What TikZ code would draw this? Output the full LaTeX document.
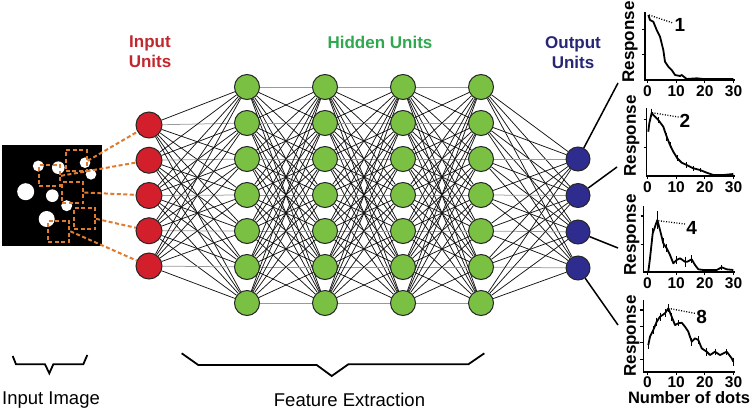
\documentclass[tikz,border=0pt]{standalone}
\usepackage{fontspec}
\setmainfont{Liberation Sans}
\definecolor{inred}{HTML}{D21F2B}
\definecolor{inredtxt}{HTML}{C1272D}
\definecolor{hidgreen}{HTML}{7AC143}
\definecolor{hidgreentxt}{HTML}{2FA84F}
\definecolor{outblue}{HTML}{2E2D8F}
\definecolor{outbluetxt}{HTML}{262673}
\definecolor{dashorange}{HTML}{DE7B2E}
\pgfdeclarelayer{bg}
\pgfsetlayers{bg,main}
\begin{document}
\begin{tikzpicture}[x=1pt,y=-1pt,
  inunit/.style={circle,draw=black!85,line width=1pt,fill=inred,inner sep=0pt,minimum size=26pt},
  hidunit/.style={circle,draw=black!85,line width=1pt,fill=hidgreen,inner sep=0pt,minimum size=25pt},
  outunit/.style={circle,draw=black!85,line width=1pt,fill=outblue,inner sep=0pt,minimum size=24pt},
  edge/.style={line width=0.75pt},
  sqbox/.style={draw=dashorange,line width=2pt,dash pattern=on 4pt off 2.5pt,minimum size=21pt,inner sep=0pt},
  orangelink/.style={draw=dashorange,line width=2pt,dash pattern=on 4pt off 2.5pt},
  bigbold/.style={font=\fontsize{17}{20}\selectfont\bfseries,align=center},
  plainlab/.style={font=\fontsize{18.5}{22}\selectfont},
  ticklab/.style={font=\fontsize{15.5}{17}\selectfont\bfseries,inner sep=0pt},
  numlab/.style={font=\fontsize{19}{21}\selectfont\bfseries,inner sep=0pt},
  resplab/.style={font=\fontsize{17}{20}\selectfont\bfseries,rotate=90,inner sep=0pt},
  axisline/.style={line width=1.2pt},
  curveline/.style={line width=1.8pt,line join=round},
  errbar/.style={line width=0.6pt},
  dotline/.style={line width=1.3pt,dash pattern=on 1pt off 1.6pt},
  outlink/.style={line width=1.5pt},
  bracestyle/.style={line width=1.8pt,line join=miter}
]
\useasboundingbox (0,0) rectangle (754,410);

% ---------- input image ----------
\fill[black] (2,145) rectangle (102,246);
\fill[white] (38.3,166) circle (5.5pt);
\fill[white] (58.3,167.7) circle (6.3pt);
\fill[white] (85,162.7) circle (5.3pt);
\fill[white] (91,174.3) circle (5.3pt);
\fill[white] (25.7,191.7) circle (8.5pt);
\fill[white] (52.3,195.7) circle (6.3pt);
\fill[white] (66.7,205.7) circle (5.5pt);
\fill[white] (46.7,219) circle (8pt);
\node[sqbox] (s1) at (76.2,160.8) {};
\node[sqbox] (s2) at (49.5,175.8) {};
\node[sqbox] (s3) at (72.8,192.5) {};
\node[sqbox] (s4) at (84.5,218.8) {};
\node[sqbox] (s5) at (58.8,231.3) {};

% ---------- units ----------
\foreach \i/\y in {1/125,2/160.25,3/195.5,4/230.75,5/266}
  \node[inunit] (i\i) at (149,\y) {};
\foreach \l/\x in {1/247,2/325,3/403,4/481}
  \foreach \j in {1,...,7}
    \node[hidunit] (h\l-\j) at (\x,{87+36*(\j-1)}) {};
\foreach \k/\y in {1/159,2/195.5,3/232,4/268}
  \node[outunit] (o\k) at (578,\y) {};

% ---------- connections ----------
\begin{pgfonlayer}{bg}
\foreach \i in {1,...,5}
  \foreach \j in {1,...,7}{
    \pgfmathtruncatemacro{\ip}{\i+1}
    \ifnum\ip=\j \def\ec{black!40}\else\def\ec{black!92}\fi
    \draw[edge,draw=\ec] (i\i) -- (h1-\j);
  }
\foreach \a/\b in {1/2,2/3,3/4}
  \foreach \j in {1,...,7}
    \foreach \k in {1,...,7}{
      \ifnum\j=\k \def\ec{black!40}\else\def\ec{black!92}\fi
      \draw[edge,draw=\ec] (h\a-\j) -- (h\b-\k);
    }
\foreach \j in {1,...,7}
  \foreach \k in {1,...,4}{
    \pgfmathtruncatemacro{\kp}{\k+2}
    \ifnum\kp=\j \def\ec{black!40}\else\def\ec{black!92}\fi
    \draw[edge,draw=\ec] (h4-\j) -- (o\k);
  }
\end{pgfonlayer}

% ---------- orange dashed links ----------
\draw[orangelink] (s1.east) -- (i1);
\draw[orangelink] (s2.east) -- (i2);
\draw[orangelink] (s3.east) -- (i3);
\draw[orangelink] (s4.east) -- (i4);
\draw[orangelink] (s5.east) -- (i5);

% ---------- titles ----------
\node[bigbold,text=inredtxt] (tin) at (150,52) {Input\\Units};
\node[bigbold,text=hidgreentxt] (thid) at (380,42) {Hidden Units};
\node[bigbold,text=outbluetxt] (tout) at (573,53) {Output\\Units};

% ---------- output to plots ----------
\coordinate (p1) at (618,83);
\coordinate (p2) at (617,167);
\coordinate (p3) at (618,248);
\coordinate (p4) at (618,325);
\draw[outlink] (o1) -- (p1);
\draw[outlink] (o2) -- (p2);
\draw[outlink] (o3) -- (p3);
\draw[outlink] (o4) -- (p4);

% ---------- plot 1 ----------
\draw[axisline] (645,12) -- (645,80) -- (735,80);
\foreach \t in {29.3,54.3} \draw[axisline] (642,\t) -- (645,\t);
\foreach \t in {647.5,676.2,704.8,733.5} \draw[axisline] (\t,80) -- (\t,82.5);
\foreach \t/\s in {647.5/0,676.2/10,704.8/20,733.5/30} \node[ticklab] at (\t,91) {\s};
\draw[curveline] plot coordinates {(648.3,15) (650,20) (653.3,21.7) (656.7,30) (660,36.7) (663.3,50) (665,61.7) (668.3,66.7) (671.7,70) (675,75) (680,76) (681.7,75) (686.7,79) (696.7,78.3) (703.3,79) (733.3,79)};
\draw[dotline] (649,15) -- (673,23);
\node[numlab] at (680,25) {1};
\node[resplab] at (630,42) {Response};

% ---------- plot 2 ----------
\draw[axisline] (646.5,108) -- (646.5,176) -- (735,176);
\foreach \t in {119.3,147.7} \draw[axisline] (643.5,\t) -- (646.5,\t);
\foreach \t in {647.5,676.2,704.8,733.5} \draw[axisline] (\t,176) -- (\t,178.5);
\foreach \t/\s in {647.5/0,676.2/10,704.8/20,733.5/30} \node[ticklab] at (\t,187) {\s};
\draw[curveline] plot coordinates {(648.3,131.7) (649.3,123.3) (651.7,112.7) (653.3,115) (658.3,120) (663.3,126.7) (666.7,136.7) (670,145) (673.3,151.7) (677.3,158.3) (681.7,162.7) (686.7,165) (693.3,168.3) (700,170) (706.7,172.7) (713.3,175) (723.3,175) (733.3,174)};
\foreach \x/\y/\h in {651.7/112.7/4,658.3/120/3,666.7/136.7/4,670/145/3,677.3/158.3/3,686.7/165/3,693.3/168.3/2.5,700/170/2}
  \draw[errbar] (\x,\y-\h) -- (\x,\y+\h);
\draw[dotline] (652,112.7) -- (680,117.3);
\node[numlab] at (685,121) {2};
\node[resplab] at (631.7,136) {Response};

% ---------- plot 3 ----------
\draw[axisline] (643.5,206) -- (643.5,272) -- (735,272);
\foreach \t in {216,244.3} \draw[axisline] (640.5,\t) -- (643.5,\t);
\foreach \t in {647.5,676.2,704.8,733.5} \draw[axisline] (\t,272) -- (\t,274.5);
\foreach \t/\s in {647.5/0,676.2/10,704.8/20,733.5/30} \node[ticklab] at (\t,283) {\s};
\draw[curveline] plot coordinates {(648.3,271.7) (650,258.3) (652.7,233.3) (655,226.7) (657.3,220) (660,230) (663.3,243.3) (666.7,248.3) (670,255) (673.3,263.3) (676.7,260) (680,258.3) (685,261.7) (687.3,261.7) (691.7,259.3) (695,265) (698.3,269.3) (703.3,270) (716.7,270) (721.7,267.3) (726.7,269.3) (733.3,270)};
\foreach \x/\y/\h in {652.7/233.3/5,657.3/220/9,663.3/243.3/5,666.7/248.3/4,676.7/260/4,685/261.7/5,691.7/259.3/4,721.7/267.3/2.5}
  \draw[errbar] (\x,\y-\h) -- (\x,\y+\h);
\draw[dotline] (658.3,220.7) -- (685,224);
\node[numlab] at (691.7,228.3) {4};
\node[resplab] at (631.7,235) {Response};

% ---------- plot 4 ----------
\draw[axisline] (643.3,300) -- (643.3,372) -- (735,372);
\foreach \t in {310,326.7,342.7,359.3} \draw[axisline] (640.3,\t) -- (643.3,\t);
\foreach \t in {647.5,676.2,704.8,733.5} \draw[axisline] (\t,372) -- (\t,374.5);
\foreach \t/\s in {647.5/0,676.2/10,704.8/20,733.5/30} \node[ticklab] at (\t,382) {\s};
\draw[curveline] plot coordinates {(648.3,345) (650,336.7) (653.3,330) (656.7,321.7) (660,316.7) (665,313.3) (668.3,308.3) (671.7,316.7) (675,325) (678.3,323.3) (681.7,322.7) (685,326.7) (688.3,331.7) (691.7,341.7) (695,338.3) (698.3,340) (701.7,348.3) (706.7,351.7) (710,355) (715,351.7) (720,355) (726.7,351.7) (731.7,358.3) (733.3,361.7)};
\foreach \x/\y/\h in {648.3/345/4,653.3/330/4,656.7/321.7/4,660/316.7/4,665/313.3/4,668.3/308.3/4,671.7/316.7/4,678.3/323.3/3,691.7/341.7/4,698.3/340/4,706.7/351.7/4,715/351.7/3,726.7/351.7/3,733.3/361.7/4}
  \draw[errbar] (\x,\y-\h) -- (\x,\y+\h);
\draw[dotline] (668.3,308.3) -- (695,313.3);
\node[numlab] at (701.7,316.7) {8};
\node[resplab] at (631.7,336) {Response};
\node[font=\fontsize{16.5}{20}\selectfont\bfseries,inner sep=0pt] (xlab) at (689,397.5) {Number of dots};

% ---------- braces & bottom labels ----------
\draw[bracestyle] (12.7,356) -- (16,364.3) -- (45,364.3) -- (49.3,373.3) -- (53.3,364.3) -- (83.3,364.3) -- (87.3,355);
\draw[bracestyle] (181.7,353.3) -- (198.3,365) -- (316.7,365) -- (331.7,376) -- (348.3,364.3) -- (468.3,364.3) -- (484.3,353.3);
\node[plainlab] (limg) at (51,400) {Input Image};
\node[plainlab] (lfeat) at (349.5,400) {Feature Extraction};
\end{tikzpicture}
\end{document}
